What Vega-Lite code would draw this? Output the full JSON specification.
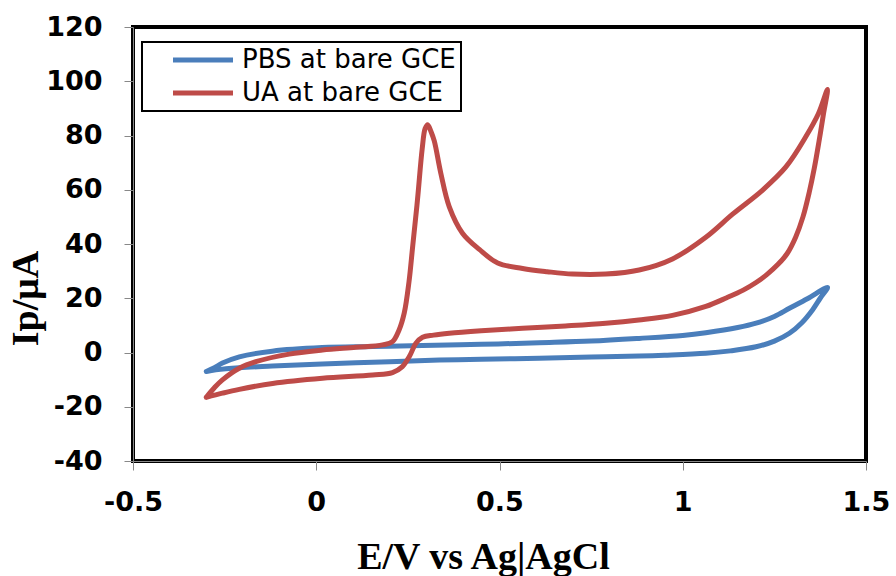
{
  "$schema": "https://vega.github.io/schema/vega-lite/v6.json",
  "width": 733,
  "height": 434,
  "autosize": {"type": "none"},
  "padding": {"left": 133, "top": 27, "right": 30, "bottom": 115},
  "background": "white",
  "data": {
    "values": [
      {"s": "PBS at bare GCE", "o": 1, "E": -0.300, "I": -7.0},
      {"s": "PBS at bare GCE", "o": 2, "E": -0.278, "I": -5.6},
      {"s": "PBS at bare GCE", "o": 3, "E": -0.256, "I": -3.9},
      {"s": "PBS at bare GCE", "o": 4, "E": -0.210, "I": -1.6},
      {"s": "PBS at bare GCE", "o": 5, "E": -0.120, "I": 0.5},
      {"s": "PBS at bare GCE", "o": 6, "E": 0.016, "I": 1.8},
      {"s": "PBS at bare GCE", "o": 7, "E": 0.153, "I": 2.2},
      {"s": "PBS at bare GCE", "o": 8, "E": 0.290, "I": 2.6},
      {"s": "PBS at bare GCE", "o": 9, "E": 0.450, "I": 3.0},
      {"s": "PBS at bare GCE", "o": 10, "E": 0.608, "I": 3.6},
      {"s": "PBS at bare GCE", "o": 11, "E": 0.750, "I": 4.2},
      {"s": "PBS at bare GCE", "o": 12, "E": 0.881, "I": 5.2},
      {"s": "PBS at bare GCE", "o": 13, "E": 1.000, "I": 6.3},
      {"s": "PBS at bare GCE", "o": 14, "E": 1.063, "I": 7.3},
      {"s": "PBS at bare GCE", "o": 15, "E": 1.150, "I": 9.2},
      {"s": "PBS at bare GCE", "o": 16, "E": 1.200, "I": 10.8},
      {"s": "PBS at bare GCE", "o": 17, "E": 1.250, "I": 13.3},
      {"s": "PBS at bare GCE", "o": 18, "E": 1.291, "I": 16.3},
      {"s": "PBS at bare GCE", "o": 19, "E": 1.340, "I": 19.8},
      {"s": "PBS at bare GCE", "o": 20, "E": 1.395, "I": 24.0},
      {"s": "PBS at bare GCE", "o": 21, "E": 1.375, "I": 20.0},
      {"s": "PBS at bare GCE", "o": 22, "E": 1.354, "I": 15.7},
      {"s": "PBS at bare GCE", "o": 23, "E": 1.325, "I": 11.0},
      {"s": "PBS at bare GCE", "o": 24, "E": 1.291, "I": 7.1},
      {"s": "PBS at bare GCE", "o": 25, "E": 1.250, "I": 4.2},
      {"s": "PBS at bare GCE", "o": 26, "E": 1.200, "I": 2.1},
      {"s": "PBS at bare GCE", "o": 27, "E": 1.130, "I": 0.6},
      {"s": "PBS at bare GCE", "o": 28, "E": 1.063, "I": -0.3},
      {"s": "PBS at bare GCE", "o": 29, "E": 0.950, "I": -1.0},
      {"s": "PBS at bare GCE", "o": 30, "E": 0.881, "I": -1.3},
      {"s": "PBS at bare GCE", "o": 31, "E": 0.750, "I": -1.7},
      {"s": "PBS at bare GCE", "o": 32, "E": 0.608, "I": -2.1},
      {"s": "PBS at bare GCE", "o": 33, "E": 0.450, "I": -2.5},
      {"s": "PBS at bare GCE", "o": 34, "E": 0.336, "I": -2.8},
      {"s": "PBS at bare GCE", "o": 35, "E": 0.200, "I": -3.4},
      {"s": "PBS at bare GCE", "o": 36, "E": 0.016, "I": -4.2},
      {"s": "PBS at bare GCE", "o": 37, "E": -0.120, "I": -5.0},
      {"s": "PBS at bare GCE", "o": 38, "E": -0.210, "I": -5.6},
      {"s": "PBS at bare GCE", "o": 39, "E": -0.274, "I": -6.4},
      {"s": "PBS at bare GCE", "o": 40, "E": -0.300, "I": -7.0},

      {"s": "UA at bare GCE", "o": 1, "E": -0.300, "I": -16.5},
      {"s": "UA at bare GCE", "o": 2, "E": -0.278, "I": -13.0},
      {"s": "UA at bare GCE", "o": 3, "E": -0.256, "I": -10.1},
      {"s": "UA at bare GCE", "o": 4, "E": -0.210, "I": -5.8},
      {"s": "UA at bare GCE", "o": 5, "E": -0.165, "I": -3.4},
      {"s": "UA at bare GCE", "o": 6, "E": -0.074, "I": -0.6},
      {"s": "UA at bare GCE", "o": 7, "E": 0.017, "I": 0.9},
      {"s": "UA at bare GCE", "o": 8, "E": 0.108, "I": 1.9},
      {"s": "UA at bare GCE", "o": 9, "E": 0.181, "I": 2.8},
      {"s": "UA at bare GCE", "o": 10, "E": 0.208, "I": 4.0},
      {"s": "UA at bare GCE", "o": 11, "E": 0.226, "I": 8.3},
      {"s": "UA at bare GCE", "o": 12, "E": 0.240, "I": 14.5},
      {"s": "UA at bare GCE", "o": 13, "E": 0.253, "I": 26.0},
      {"s": "UA at bare GCE", "o": 14, "E": 0.263, "I": 39.0},
      {"s": "UA at bare GCE", "o": 15, "E": 0.276, "I": 56.0},
      {"s": "UA at bare GCE", "o": 16, "E": 0.289, "I": 75.0},
      {"s": "UA at bare GCE", "o": 17, "E": 0.297, "I": 82.5},
      {"s": "UA at bare GCE", "o": 18, "E": 0.304, "I": 84.0},
      {"s": "UA at bare GCE", "o": 19, "E": 0.313, "I": 81.5},
      {"s": "UA at bare GCE", "o": 20, "E": 0.322, "I": 78.0},
      {"s": "UA at bare GCE", "o": 21, "E": 0.340, "I": 66.0},
      {"s": "UA at bare GCE", "o": 22, "E": 0.363, "I": 53.7},
      {"s": "UA at bare GCE", "o": 23, "E": 0.399, "I": 44.0},
      {"s": "UA at bare GCE", "o": 24, "E": 0.445, "I": 38.0},
      {"s": "UA at bare GCE", "o": 25, "E": 0.495, "I": 33.0},
      {"s": "UA at bare GCE", "o": 26, "E": 0.563, "I": 31.0},
      {"s": "UA at bare GCE", "o": 27, "E": 0.630, "I": 29.8},
      {"s": "UA at bare GCE", "o": 28, "E": 0.699, "I": 28.9},
      {"s": "UA at bare GCE", "o": 29, "E": 0.790, "I": 28.9},
      {"s": "UA at bare GCE", "o": 30, "E": 0.881, "I": 30.4},
      {"s": "UA at bare GCE", "o": 31, "E": 0.972, "I": 34.5},
      {"s": "UA at bare GCE", "o": 32, "E": 1.063, "I": 42.5},
      {"s": "UA at bare GCE", "o": 33, "E": 1.136, "I": 51.0},
      {"s": "UA at bare GCE", "o": 34, "E": 1.218, "I": 59.9},
      {"s": "UA at bare GCE", "o": 35, "E": 1.282, "I": 68.5},
      {"s": "UA at bare GCE", "o": 36, "E": 1.336, "I": 79.6},
      {"s": "UA at bare GCE", "o": 37, "E": 1.370, "I": 88.0},
      {"s": "UA at bare GCE", "o": 38, "E": 1.395, "I": 97.0},
      {"s": "UA at bare GCE", "o": 39, "E": 1.384, "I": 88.0},
      {"s": "UA at bare GCE", "o": 40, "E": 1.372, "I": 78.0},
      {"s": "UA at bare GCE", "o": 41, "E": 1.359, "I": 68.0},
      {"s": "UA at bare GCE", "o": 42, "E": 1.345, "I": 59.0},
      {"s": "UA at bare GCE", "o": 43, "E": 1.328, "I": 50.0},
      {"s": "UA at bare GCE", "o": 44, "E": 1.308, "I": 42.5},
      {"s": "UA at bare GCE", "o": 45, "E": 1.285, "I": 36.5},
      {"s": "UA at bare GCE", "o": 46, "E": 1.260, "I": 32.5},
      {"s": "UA at bare GCE", "o": 47, "E": 1.230, "I": 28.8},
      {"s": "UA at bare GCE", "o": 48, "E": 1.200, "I": 25.8},
      {"s": "UA at bare GCE", "o": 49, "E": 1.165, "I": 23.0},
      {"s": "UA at bare GCE", "o": 50, "E": 1.120, "I": 20.2},
      {"s": "UA at bare GCE", "o": 51, "E": 1.063, "I": 17.0},
      {"s": "UA at bare GCE", "o": 52, "E": 0.972, "I": 13.7},
      {"s": "UA at bare GCE", "o": 53, "E": 0.880, "I": 12.0},
      {"s": "UA at bare GCE", "o": 54, "E": 0.790, "I": 10.8},
      {"s": "UA at bare GCE", "o": 55, "E": 0.680, "I": 9.8},
      {"s": "UA at bare GCE", "o": 56, "E": 0.563, "I": 8.9},
      {"s": "UA at bare GCE", "o": 57, "E": 0.450, "I": 8.0},
      {"s": "UA at bare GCE", "o": 58, "E": 0.363, "I": 7.1},
      {"s": "UA at bare GCE", "o": 59, "E": 0.320, "I": 6.4},
      {"s": "UA at bare GCE", "o": 60, "E": 0.290, "I": 5.6},
      {"s": "UA at bare GCE", "o": 61, "E": 0.272, "I": 3.4},
      {"s": "UA at bare GCE", "o": 62, "E": 0.254, "I": -1.5},
      {"s": "UA at bare GCE", "o": 63, "E": 0.235, "I": -5.2},
      {"s": "UA at bare GCE", "o": 64, "E": 0.208, "I": -7.4},
      {"s": "UA at bare GCE", "o": 65, "E": 0.154, "I": -8.3},
      {"s": "UA at bare GCE", "o": 66, "E": 0.017, "I": -9.5},
      {"s": "UA at bare GCE", "o": 67, "E": -0.119, "I": -11.4},
      {"s": "UA at bare GCE", "o": 68, "E": -0.210, "I": -13.6},
      {"s": "UA at bare GCE", "o": 69, "E": -0.256, "I": -15.0},
      {"s": "UA at bare GCE", "o": 70, "E": -0.300, "I": -16.5}
    ]
  },
  "mark": {"type": "line", "strokeWidth": 5, "strokeJoin": "round", "strokeCap": "round", "interpolate": "catmull-rom"},
  "encoding": {
    "x": {
      "field": "E", "type": "quantitative",
      "scale": {"domain": [-0.5, 1.5], "nice": false, "zero": false},
      "axis": {
        "values": [-0.5, 0, 0.5, 1, 1.5],
        "labelExpr": "toString(datum.value)",
        "labelFlush": false,
        "title": "E/V vs Ag|AgCl",
        "titleX": 350,
        "titleY": 107,
        "titleAlign": "center",
        "titleBaseline": "alphabetic",
        "labelPadding": 19
      }
    },
    "y": {
      "field": "I", "type": "quantitative",
      "scale": {"domain": [-40, 120], "nice": false, "zero": false},
      "axis": {
        "values": [-40, -20, 0, 20, 40, 60, 80, 100, 120],
        "labelExpr": "toString(datum.value)",
        "labelFlush": false,
        "title": "Ip/μA",
        "titleAngle": -90,
        "titleX": -96,
        "titleY": 271,
        "titleAlign": "center",
        "titleBaseline": "alphabetic",
        "labelPadding": 22
      }
    },
    "color": {
      "field": "s", "type": "nominal",
      "scale": {"domain": ["PBS at bare GCE", "UA at bare GCE"], "range": ["#4A7EBB", "#BE4B48"]},
      "legend": {
        "title": null,
        "labelExpr": "datum.label + '\u00a0\u00a0\u00a0'"
      }
    },
    "order": {"field": "o", "type": "quantitative"}
  },
  "config": {
    "view": {"stroke": "black", "strokeWidth": 4},
    "axis": {
      "grid": false,
      "domainColor": "#888888",
      "domainWidth": 1,
      "tickColor": "#888888",
      "tickSize": 9,
      "tickWidth": 1,
      "labelFont": "DejaVu Sans",
      "labelFontWeight": "bold",
      "labelFontSize": 27,
      "labelColor": "black",
      "titleFont": "Liberation Serif",
      "titleFontWeight": "bold",
      "titleFontSize": 38,
      "titleColor": "black"
    },
    "legend": {
      "orient": "none",
      "legendX": 9,
      "legendY": 15,
      "strokeColor": "black",
      "strokeWidth": 2,
      "padding": 5,
      "symbolType": "M-3,0H3",
      "symbolSize": 400,
      "symbolStrokeWidth": 5,
      "symbolOffset": 43,
      "labelOffset": 26,
      "labelLimit": 400,
      "labelFont": "DejaVu Sans",
      "labelFontSize": 26,
      "labelColor": "black",
      "rowPadding": 7
    }
  }
}
